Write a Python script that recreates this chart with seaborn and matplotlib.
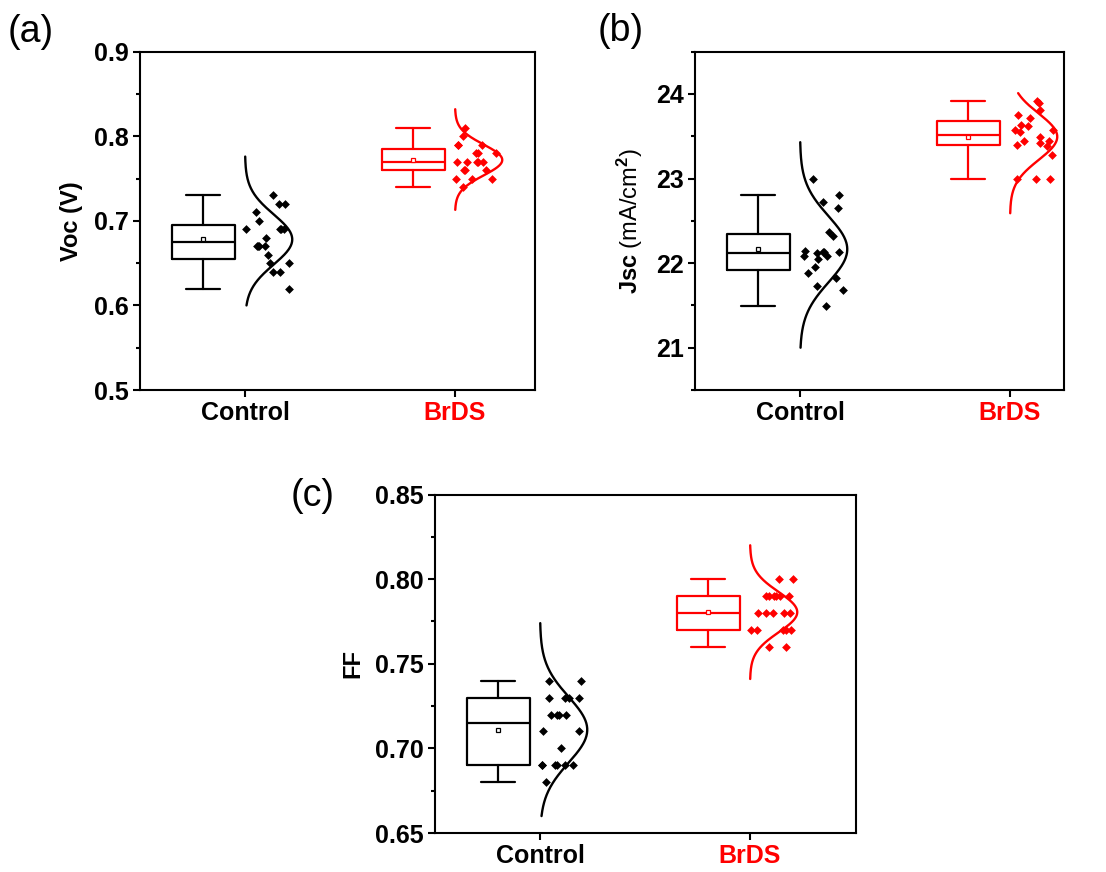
import numpy as np
import matplotlib
matplotlib.use("Agg")
import matplotlib.pyplot as plt
from matplotlib.ticker import MultipleLocator, FormatStrFormatter
import seaborn as sns

# ---- data -------------------------------------------------------------
groups = ["Control", "BrDS"]
group_colors = ["#000000", "#FF0000"]

voc_control = [0.73, 0.72, 0.72, 0.71, 0.70, 0.69, 0.69, 0.69, 0.69, 0.68,
               0.67, 0.67, 0.67, 0.67, 0.66, 0.65, 0.65, 0.64, 0.64, 0.62]
voc_brds = [0.81, 0.80, 0.79, 0.79, 0.79, 0.78, 0.78, 0.78, 0.77, 0.77,
            0.77, 0.77, 0.77, 0.76, 0.76, 0.76, 0.75, 0.75, 0.75, 0.74]

jsc_control = [23.00, 22.81, 22.72, 22.65, 22.37, 22.32, 22.14, 22.13, 22.13, 22.13,
               22.12, 22.09, 22.08, 22.05, 21.95, 21.88, 21.82, 21.73, 21.68, 21.49]
jsc_brds = [23.92, 23.89, 23.81, 23.75, 23.72, 23.63, 23.62, 23.58, 23.57, 23.55,
            23.49, 23.45, 23.45, 23.42, 23.40, 23.39, 23.28, 23.00, 22.99, 22.99]

ff_control = [0.74, 0.74, 0.73, 0.73, 0.73, 0.73, 0.72, 0.72, 0.72, 0.72,
              0.71, 0.71, 0.70, 0.69, 0.69, 0.69, 0.69, 0.69, 0.69, 0.68]
ff_brds = [0.80, 0.80, 0.79, 0.79, 0.79, 0.79, 0.79, 0.79, 0.78, 0.78,
           0.78, 0.78, 0.78, 0.77, 0.77, 0.77, 0.77, 0.77, 0.76, 0.76]

# value range covered by each fitted normal curve (Control, BrDS)
voc_curve_span = [(0.600, 0.776), (0.713, 0.832)]
jsc_curve_span = [(21.00, 23.43), (22.59, 24.01)]
ff_curve_span = [(0.660, 0.774), (0.741, 0.820)]

# ---- style ------------------------------------------------------------
sns.set_style("ticks")
plt.rcParams["font.family"] = ["Liberation Sans", "DejaVu Sans"]
plt.rcParams["font.weight"] = "bold"
plt.rcParams["axes.labelweight"] = "bold"
plt.rcParams["axes.linewidth"] = 1.5
plt.rcParams["text.color"] = "black"
plt.rcParams["axes.labelcolor"] = "black"
plt.rcParams["axes.edgecolor"] = "black"
plt.rcParams["xtick.color"] = "black"
plt.rcParams["ytick.color"] = "black"
plt.rcParams["mathtext.fontset"] = "custom"
plt.rcParams["mathtext.rm"] = "Liberation Sans"
plt.rcParams["mathtext.bf"] = "Liberation Sans:bold"
plt.rcParams["mathtext.it"] = "Liberation Sans:italic"

W, H = 1106, 872
fig = plt.figure(figsize=(W / 100, H / 100), dpi=100)
rng = np.random.default_rng(7)

BOX_SHIFT = -0.2
BOX_WIDTH = 0.3
CAP_WIDTH = 0.16
CURVE_WIDTH = 0.225
UNIT_PX = 210.0


def hinge_stats(vals, label):
    """Box statistics using Tukey hinges and 1.5 IQR whiskers."""
    x = np.sort(np.asarray(vals, dtype=float))
    n = len(x)
    q1 = np.median(x[: n // 2])
    q3 = np.median(x[(n + 1) // 2:])
    iqr = q3 - q1
    lo_f, hi_f = q1 - 1.5 * iqr - 1e-9, q3 + 1.5 * iqr + 1e-9
    return dict(label=label, med=np.median(x), q1=q1, q3=q3,
                whislo=x[x >= lo_f].min(), whishi=x[x <= hi_f].max(),
                mean=x.mean(), fliers=[])


def add_panel(rect_px, series, spans, ylim, major, minor, fmt, ylabel, letter, letter_xy):
    left, top, right, bottom = rect_px
    ax = fig.add_axes([left / W, 1 - bottom / H, (right - left) / W, (bottom - top) / H])

    for i, (vals, span, col) in enumerate(zip(series, spans, group_colors)):
        st = hinge_stats(vals, groups[i])
        line = dict(color=col, linewidth=1.6)
        ax.bxp([st], positions=[i + BOX_SHIFT], widths=BOX_WIDTH, capwidths=[CAP_WIDTH],
               showmeans=True, showfliers=False, manage_ticks=False,
               boxprops=line, whiskerprops=line, capprops=line, medianprops=line,
               meanprops=dict(marker="s", markersize=3.4, markerfacecolor="white",
                              markeredgecolor=col, markeredgewidth=0.9))

        v = np.asarray(vals, dtype=float)
        mu, sd = v.mean(), v.std(ddof=1)
        yy = np.linspace(span[0], span[1], 300)
        dens = np.exp(-0.5 * ((yy - mu) / sd) ** 2)
        sns.lineplot(x=i + CURVE_WIDTH * dens, y=yy, sort=False, estimator=None,
                     color=col, linewidth=1.7, ax=ax)

        jitter = rng.uniform(0.005, 0.21, len(v))
        sns.scatterplot(x=i + jitter, y=v, marker="D", s=20, color=col,
                        edgecolor=col, linewidth=0, ax=ax, zorder=4)

    width_units = (right - left) / UNIT_PX
    ax.set_xlim(-0.5, -0.5 + width_units)
    ax.set_ylim(*ylim)
    ax.set_xticks([0, 1])
    ax.set_xticklabels(groups, fontsize=18, fontweight="bold")
    for lab, col in zip(ax.get_xticklabels(), group_colors):
        lab.set_color(col)
    ax.yaxis.set_major_locator(MultipleLocator(major))
    ax.yaxis.set_minor_locator(MultipleLocator(minor))
    ax.yaxis.set_major_formatter(FormatStrFormatter(fmt))
    ax.tick_params(axis="both", which="major", direction="out", length=5, width=1.5,
                   labelsize=18, pad=3, top=False, right=False, colors="black")
    ax.tick_params(axis="y", which="minor", direction="out", length=3, width=1.5,
                   colors="black")
    ax.tick_params(axis="x", which="minor", bottom=False)
    for lab in ax.get_yticklabels():
        lab.set_fontweight("bold")
        lab.set_color("black")
    for lab, col in zip(ax.get_xticklabels(), group_colors):
        lab.set_color(col)
    for s in ax.spines.values():
        s.set_visible(True)
        s.set_linewidth(1.5)
        s.set_color("black")
    ax.set_xlabel("")
    ax.set_ylabel(ylabel, fontsize=17, labelpad=8, color="black")
    fig.text(letter_xy[0] / W, 1 - letter_xy[1] / H, letter, fontsize=27,
             fontweight="normal", color="black", ha="left", va="center")
    return ax


add_panel((140, 51.7, 535, 390), [voc_control, voc_brds], voc_curve_span,
          (0.5, 0.9), 0.1, 0.05, "%.1f", "Voc (V)", "(a)", (8, 32))

ax_b = add_panel((695, 51.7, 1064, 390), [jsc_control, jsc_brds], jsc_curve_span,
                 (20.5, 24.5), 1, 0.5, "%d", r"$\mathbf{Jsc}$ (mA/cm$^{2}$)", "(b)", (598, 31))
ax_b.yaxis.label.set_fontweight("normal")

add_panel((435, 494.5, 856, 833), [ff_control, ff_brds], ff_curve_span,
          (0.65, 0.85), 0.05, 0.025, "%.2f", "FF", "(c)", (291, 496))

fig.savefig("out.png", dpi=100)
